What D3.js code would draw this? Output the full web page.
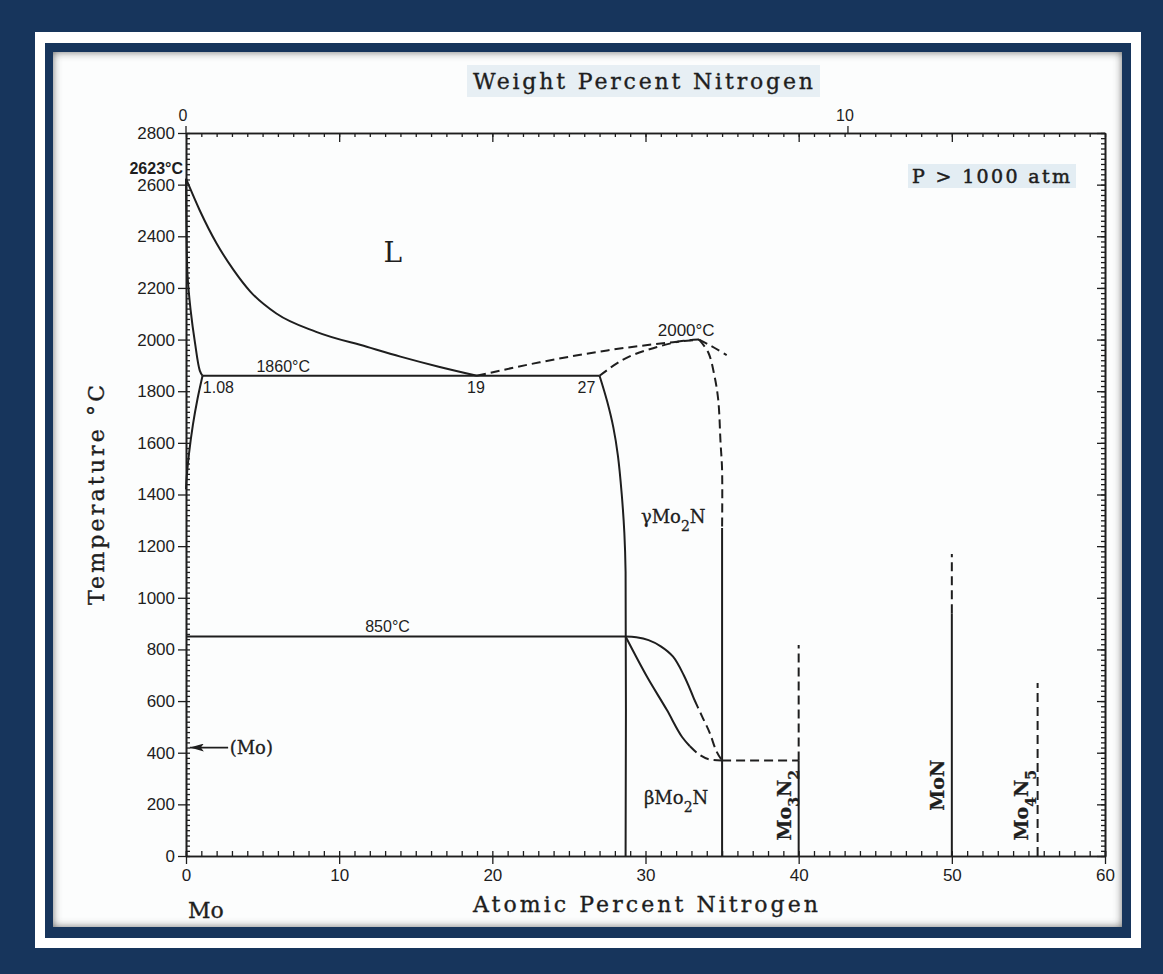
<!DOCTYPE html>
<html>
<head>
<meta charset="utf-8">
<script src="https://cdn.jsdelivr.net/npm/d3@7/dist/d3.min.js"></script>
<style>
  html, body { margin: 0; padding: 0; background: #17355c; }
  svg { display: block; }
</style>
</head>
<body>
<svg id="chart" width="1163" height="974"></svg>
<script>
// ---- Mo–N phase diagram data: [atomic % N, temperature °C] ----
const liquidus = [[0,2623],[0.9,2500],[2.0,2372],[3.1,2270],[4.2,2186],[5.9,2101],[8.5,2030],[11.8,1972],[14.0,1934],[16.5,1895],[19,1860]];
const solidusMo = [[0,2623],[0.03,2450],[0.1,2250],[0.3,2115],[0.59,1986],[0.9,1880],[1.08,1860]];
const solvusMo = [[1.08,1860],[0.75,1770],[0.45,1670],[0.2,1560],[0.05,1470],[0,1420]];
const eutectic1860 = [[1.08,1860],[27,1860]];
const liquidusDashA = [[19,1860],[23.1,1912],[27.5,1958],[31.8,1990],[33.5,2000]];
const liquidusDashB = [[27,1860],[28.5,1921],[30.7,1970],[32.5,1995],[33.5,2000]];
const peakRightDash = [[33.5,2000],[34.3,1975],[35.3,1940]];
const gammaRightDash = [[33.5,2000],[34.1,1950],[34.5,1860],[34.75,1766],[34.9,1600],[35,1495],[35,1270]];
const gammaRight = [[35,1270],[35,0]];
const gammaLeft = [[27,1860],[27.5,1760],[27.9,1660],[28.2,1550],[28.45,1400],[28.62,1250],[28.7,1100],[28.7,0]];
const eutectoid850 = [[0,850],[28.7,850]];
const betaUpper = [[28.7,850],[29.4,847],[30.2,836],[31.0,812],[31.8,772],[32.5,700],[33.2,604]];
const betaUpperDash = [[33.2,604],[33.7,540],[34.2,476],[34.6,410],[35,370]];
const betaLower = [[28.7,850],[30.1,694],[31.4,565],[32.4,460],[32.9,425]];
const betaLowerDash = [[32.9,425],[33.5,393],[34.2,374],[35,370]];
const monotectoid370 = [[35,370],[40,370]];
const mo3n2Solid = [[40,0],[40,370]];
const mo3n2Dash = [[40,370],[40,817]];
const monSolid = [[50,0],[50,940]];
const monDash = [[50,940],[50,1170]];
const mo4n5Dash = [[55.6,0],[55.6,670]];
const moTransition = 420;

// ---- axis ticks ----
const atomicTicks = [0,10,20,30,40,50,60];
const tempTicks = [0,200,400,600,800,1000,1200,1400,1600,1800,2000,2200,2400,2600,2800];
const weightTicks = [0,10];

const MASS_N = 14.007, MASS_MO = 95.95;
const atFromWt = w => 100 * (w / MASS_N) / (w / MASS_N + (100 - w) / MASS_MO);

const svg = d3.select("#chart");
const W = 1163, H = 974;

// ---- frame ----
svg.append("rect").attr("width", W).attr("height", H).attr("fill", "#17355c");
svg.append("rect").attr("x", 35).attr("y", 32).attr("width", 1106).attr("height", 916).attr("fill", "#ffffff");
svg.append("rect").attr("x", 45).attr("y", 43).attr("width", 1086).attr("height", 895).attr("fill", "#17355c");

const defs = svg.append("defs");
defs.append("clipPath").attr("id", "paperClip")
  .append("rect").attr("x", 53).attr("y", 52).attr("width", 1069).attr("height", 875);
const blur = defs.append("filter").attr("id", "soft").attr("x", "-5%").attr("y", "-5%").attr("width", "110%").attr("height", "110%");
blur.append("feGaussianBlur").attr("stdDeviation", 5);

svg.append("rect").attr("x", 53).attr("y", 52).attr("width", 1069).attr("height", 875).attr("fill", "#fcfdfd");
svg.append("g").attr("clip-path", "url(#paperClip)")
  .append("rect").attr("x", 47).attr("y", 46).attr("width", 1081).attr("height", 887)
  .attr("fill", "none").attr("stroke", "#555").attr("stroke-width", 10).attr("filter", "url(#soft)");

// ---- scales ----
const x = d3.scaleLinear().domain([0, 60]).range([186, 1105]);
const y = d3.scaleLinear().domain([0, 2800]).range([856, 133]);

const ink = "#1e1e1e";
const tickFont = "'Liberation Sans', Arial, sans-serif";
const serif = "'DejaVu Serif', 'Liberation Serif', serif";

// ---- header boxes ----
svg.append("rect").attr("x", 467).attr("y", 65).attr("width", 353).attr("height", 32).attr("fill", "#e7eff4");
svg.append("rect").attr("x", 908).attr("y", 164).attr("width", 168).attr("height", 24).attr("fill", "#e3edf3");

function styleAxis(g) {
  g.select(".domain").attr("stroke", ink).attr("stroke-width", 1.6);
  g.selectAll(".tick line").attr("stroke", ink).attr("stroke-width", 1.3);
  g.selectAll(".tick text").attr("fill", ink).attr("font-family", tickFont).attr("font-size", 16);
}

// bottom axis: minor ticks inside, labelled ticks outside
svg.append("g").attr("transform", `translate(0,${y(0)})`)
  .call(d3.axisTop(x).ticks(60).tickSize(5).tickFormat(""))
  .call(styleAxis);
svg.append("g").attr("transform", `translate(0,${y(0)})`)
  .call(d3.axisBottom(x).tickValues(atomicTicks).tickSize(8).tickSizeOuter(0).tickPadding(5).tickFormat(d3.format("d")))
  .call(styleAxis)
  .call(g => g.selectAll(".tick text").attr("font-size", 17));

// top axis: atomic ticks mirrored inside, weight-percent labels outside
svg.append("g").attr("transform", `translate(0,${y(2800)})`)
  .call(d3.axisBottom(x).ticks(60).tickSize(4).tickFormat("").tickSizeOuter(0))
  .call(styleAxis);
svg.append("g").attr("transform", `translate(0,${y(2800)})`)
  .call(d3.axisBottom(x).tickValues(atomicTicks.slice(1, 6)).tickSize(9).tickFormat("").tickSizeOuter(0))
  .call(styleAxis);
const wTicks = svg.append("g").attr("transform", `translate(0,${y(2800)})`);
wTicks.selectAll("line").data(weightTicks).join("line")
  .attr("x1", d => x(atFromWt(d))).attr("x2", d => x(atFromWt(d)))
  .attr("y1", 0).attr("y2", -7).attr("stroke", ink).attr("stroke-width", 1.3);
wTicks.selectAll("text").data(weightTicks).join("text")
  .attr("x", d => x(atFromWt(d)) - 3).attr("y", -12)
  .attr("text-anchor", "middle").attr("font-family", tickFont).attr("font-size", 16).attr("fill", ink)
  .text(d => d);

// left axis: labelled ticks outside, fine ticks inside
svg.append("g").attr("transform", `translate(${x(0)},0)`)
  .call(d3.axisRight(y).ticks(140).tickSize(4).tickFormat("").tickSizeOuter(0))
  .call(styleAxis);
svg.append("g").attr("transform", `translate(${x(0)},0)`)
  .call(d3.axisLeft(y).tickValues(tempTicks).tickSize(8).tickSizeOuter(0).tickPadding(3).tickFormat(d3.format("d")))
  .call(styleAxis)
  .call(g => g.selectAll(".tick text").attr("font-size", 17));

// right axis: fine ticks inside
svg.append("g").attr("transform", `translate(${x(60)},0)`)
  .call(d3.axisLeft(y).ticks(140).tickSize(4).tickFormat("").tickSizeOuter(0))
  .call(styleAxis);
svg.append("g").attr("transform", `translate(${x(60)},0)`)
  .call(d3.axisLeft(y).tickValues(tempTicks).tickSize(8).tickFormat("").tickSizeOuter(0))
  .call(styleAxis);

// ---- axis titles ----
const titleText = (txt) => svg.append("text")
  .attr("font-family", serif).attr("font-size", 22).attr("fill", ink)
  .attr("stroke", ink).attr("stroke-width", 0.35).text(txt);
titleText("Weight Percent Nitrogen").attr("x", 473).attr("y", 89)
  .attr("textLength", 340).attr("lengthAdjust", "spacing");
titleText("Atomic Percent Nitrogen").attr("x", 473).attr("y", 912)
  .attr("textLength", 345).attr("lengthAdjust", "spacing");
titleText("Mo").attr("x", 188).attr("y", 918);
titleText("Temperature °C").attr("transform", "translate(104,605) rotate(-90)")
  .attr("textLength", 220).attr("lengthAdjust", "spacing");
svg.append("text").attr("x", 912).attr("y", 183)
  .attr("font-family", serif).attr("font-size", 19).attr("fill", ink)
  .attr("stroke", ink).attr("stroke-width", 0.5)
  .attr("textLength", 158).attr("lengthAdjust", "spacing")
  .text("P > 1000 atm");

// ---- phase boundaries ----
const smooth = d3.line().x(d => x(d[0])).y(d => y(d[1])).curve(d3.curveCatmullRom.alpha(0.5));
const monotone = d3.line().x(d => x(d[0])).y(d => y(d[1])).curve(d3.curveMonotoneX);
const straight = d3.line().x(d => x(d[0])).y(d => y(d[1]));
const plot = svg.append("g").attr("fill", "none").attr("stroke", ink).attr("stroke-width", 2);

const solidCurves = [solidusMo, solvusMo, gammaLeft, betaUpper];
const solidMonotone = [liquidus, betaLower];
const solidLines = [eutectic1860, eutectoid850, gammaRight, mo3n2Solid, monSolid];
const dashedCurves = [peakRightDash, gammaRightDash];
const dashedMonotone = [liquidusDashA, liquidusDashB, betaUpperDash, betaLowerDash];
const dashedLines = [monotectoid370, mo3n2Dash, monDash, mo4n5Dash];

plot.selectAll(".sc").data(solidCurves).join("path").attr("class", "sc").attr("d", smooth);
plot.selectAll(".sm").data(solidMonotone).join("path").attr("class", "sm").attr("d", monotone);
plot.selectAll(".sl").data(solidLines).join("path").attr("class", "sl").attr("d", straight);
plot.selectAll(".dc").data(dashedCurves).join("path").attr("class", "dc").attr("d", smooth)
  .attr("stroke-dasharray", "9,5");
plot.selectAll(".dm").data(dashedMonotone).join("path").attr("class", "dm").attr("d", monotone)
  .attr("stroke-dasharray", "9,5");
plot.selectAll(".dl").data(dashedLines).join("path").attr("class", "dl").attr("d", straight)
  .attr("stroke-dasharray", "9,5");

// (Mo) allotropic marker arrow
defs.append("marker").attr("id", "arrowHead").attr("viewBox", "0 0 14 8")
  .attr("refX", 14).attr("refY", 4).attr("markerWidth", 14).attr("markerHeight", 8)
  .attr("markerUnits", "userSpaceOnUse").attr("orient", "auto")
  .append("path").attr("d", "M0,0 L14,4 L0,8 L3,4 Z").attr("fill", ink);
svg.append("line")
  .attr("x1", x(2.75)).attr("x2", x(0.25)).attr("y1", y(moTransition)).attr("y2", y(moTransition))
  .attr("stroke", ink).attr("stroke-width", 1.8).attr("marker-end", "url(#arrowHead)");
svg.append("text").attr("x", x(2.85)).attr("y", y(moTransition) + 6)
  .attr("font-family", serif).attr("font-size", 18).attr("fill", ink)
  .attr("stroke", ink).attr("stroke-width", 0.3).text("(Mo)");

// ---- annotations ----
const sans = (txt, px, py, size, weight) => svg.append("text")
  .attr("x", px).attr("y", py).attr("font-family", tickFont).attr("font-size", size || 16)
  .attr("font-weight", weight || "normal").attr("fill", ink).text(txt);

sans("2623°C", x(0) - 3, y(2623) - 5, 16, "bold").attr("text-anchor", "end");
sans("1860°C", x(4.6), y(1860) - 4);
sans("1.08", x(1.1), y(1860) + 17);
sans("19", x(19) - 10, y(1860) + 17);
sans("27", x(27) - 22, y(1860) + 17);
sans("2000°C", x(30.8), y(2000) - 4, 17);
sans("850°C", x(11.7), y(850) - 5);

svg.append("text").attr("x", x(12.9)).attr("y", y(2300))
  .attr("font-family", serif).attr("font-size", 28).attr("fill", ink).text("L");

function phaseLabel(px, py, parts, rotate) {
  const t = svg.append("text").attr("font-family", serif).attr("font-size", rotate ? 19 : 18).attr("fill", ink)
    .attr("stroke", ink).attr("stroke-width", 0.3);
  if (rotate) t.attr("transform", `translate(${px},${py}) rotate(-90)`).attr("font-weight", "bold");
  else t.attr("x", px).attr("y", py);
  parts.forEach(p => {
    const s = t.append("tspan").text(p[0]);
    if (p[1]) s.attr("baseline-shift", "sub").attr("font-size", 14);
  });
  return t;
}
phaseLabel(x(29.7), y(1290), [["γMo"], ["2", true], ["N"]]);
phaseLabel(x(29.9), y(200), [["βMo"], ["2", true], ["N"]]);
phaseLabel(x(39.5), y(60), [["Mo"], ["3", true], ["N"], ["2", true]], true);
phaseLabel(x(49.5), y(175), [["MoN"]], true);
phaseLabel(x(55.0), y(60), [["Mo"], ["4", true], ["N"], ["5", true]], true);
</script>
</body>
</html>
